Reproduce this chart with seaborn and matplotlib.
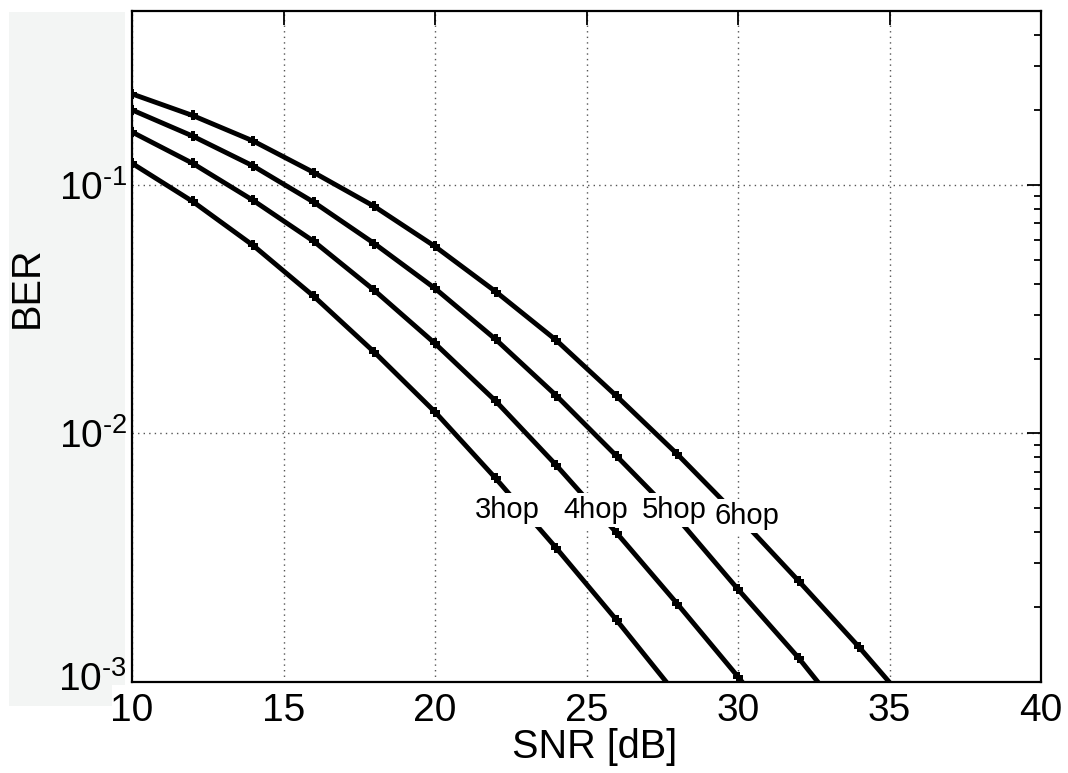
import numpy as np
import pandas as pd
import matplotlib
matplotlib.use("Agg")
import matplotlib.pyplot as plt
from matplotlib.patches import Rectangle
from matplotlib.transforms import ScaledTranslation
from matplotlib.ticker import LogLocator, FixedLocator, NullFormatter, FuncFormatter
import seaborn as sns

snr = [10, 12, 14, 16, 18, 20, 22, 24, 26, 28, 30, 32, 34, 36]
ber_3hop = [0.122, 0.0857, 0.057, 0.0356, 0.0212, 0.0122, 0.0066, 0.00346, 0.00177, 0.00088]
ber_4hop = [0.163, 0.122, 0.0865, 0.0592, 0.0376, 0.0230, 0.0135, 0.00745, 0.00397, 0.00206, 0.00105, 0.00052]
ber_5hop = [0.200, 0.157, 0.119, 0.0851, 0.058, 0.0383, 0.0239, 0.0142, 0.00809, 0.00456, 0.00236, 0.00125, 0.00062]
ber_6hop = [0.232, 0.190, 0.150, 0.112, 0.0818, 0.0565, 0.0372, 0.0237, 0.0141, 0.00824, 0.00465, 0.00255, 0.00138, 0.00072]
series_names = ["3hop", "4hop", "5hop", "6hop"]
series_vals = [ber_3hop, ber_4hop, ber_5hop, ber_6hop]
label_pos_x = [22.4, 25.3, 27.9, 30.3]
label_pos_y = [0.0049, 0.0049, 0.0049, 0.00465]
x_ticks = [10, 15, 20, 25, 30, 35, 40]
y_ticks = [1e-3, 1e-2, 1e-1]

sns.set_style("white")
plt.rcParams['font.family'] = ['Liberation Sans', 'DejaVu Sans']
plt.rcParams['mathtext.fontset'] = 'custom'
plt.rcParams['mathtext.rm'] = 'Liberation Sans'
plt.rcParams['mathtext.it'] = 'Liberation Sans'
plt.rcParams['text.color'] = 'black'
plt.rcParams['axes.labelcolor'] = 'black'
plt.rcParams['xtick.color'] = 'black'
plt.rcParams['ytick.color'] = 'black'

rows = []
for name, vals in zip(series_names, series_vals):
    for x, v in zip(snr, vals):
        rows.append({"SNR": x, "BER": v, "hop": name})
df = pd.DataFrame(rows)

fig = plt.figure(figsize=(10.68, 7.73), dpi=100)
fig.patch.set_facecolor("white")
W, H = 1068, 773
gray = "#f3f5f4"
fig.patches.append(Rectangle((9 / W, 1 - 685 / H), (125 - 9) / W, (685 - 12) / H,
                             transform=fig.transFigure, facecolor=gray, edgecolor="none", zorder=-5))
fig.patches.append(Rectangle((9 / W, 1 - 706 / H), (112 - 9) / W, (706 - 685) / H,
                             transform=fig.transFigure, facecolor=gray, edgecolor="none", zorder=-5))

ax = fig.add_axes([132 / W, 1 - 682 / H, (1041 - 132) / W, (682 - 11) / H])
ax.set_facecolor("white")

sns.lineplot(data=df, x="SNR", y="BER", hue="hop", palette=["black"] * 4,
             marker="P", markersize=7, markeredgewidth=0, linewidth=3.5,
             legend=False, ax=ax, zorder=3)

ax.set_yscale("log")
ax.set_xlim(10, 40)
ax.set_ylim(1e-3, 0.5)
ax.xaxis.set_major_locator(FixedLocator(x_ticks))
ax.set_xticklabels([str(t) for t in x_ticks])
ax.yaxis.set_major_locator(FixedLocator(y_ticks))
ax.yaxis.set_minor_locator(LogLocator(base=10, subs=np.arange(2, 10), numticks=20))
ax.yaxis.set_minor_formatter(NullFormatter())
ax.yaxis.set_major_formatter(FuncFormatter(
    lambda v, p: r"$\mathdefault{10^{\text{-}%d}}$" % int(round(-np.log10(v)))))

ax.grid(True, which="major", linestyle=(0, (1, 3)), color="#555555", linewidth=1.0)
ax.tick_params(axis="both", which="both", direction="in", top=True, right=True,
               labelsize=28, width=1.3, color="black", labelcolor="black")
ax.tick_params(axis="both", which="major", length=10)
ax.tick_params(axis="x", which="major", pad=8)
ax.tick_params(axis="y", which="major", pad=3.5)
ax.tick_params(axis="y", which="minor", length=5)
for s in ax.spines.values():
    s.set_linewidth(1.6)
    s.set_color("black")
    s.set_zorder(5)

# lift the lowest y tick label slightly so it clears the first x tick label (as in the reference)
ticks = ax.yaxis.get_major_ticks()
lab = ticks[0].label1
lab.set_transform(lab.get_transform() + ScaledTranslation(0, 6 / 100, fig.dpi_scale_trans))

ax.set_xlabel("")
ax.set_ylabel("")
fig.text(594.5 / W, 1 - 758 / H, "SNR [dB]", fontsize=28.5, ha="center", va="baseline")
fig.text(27 / W, 1 - 287.5 / H, "BER", fontsize=28.5, ha="center", va="center", rotation=90)

for name, lx, ly in zip(series_names, label_pos_x, label_pos_y):
    ax.text(lx, ly, name, fontsize=21, ha="center", va="center", zorder=6,
            bbox=dict(facecolor="white", edgecolor="none", pad=2))

fig.savefig("out.png", dpi=100, facecolor="white")
